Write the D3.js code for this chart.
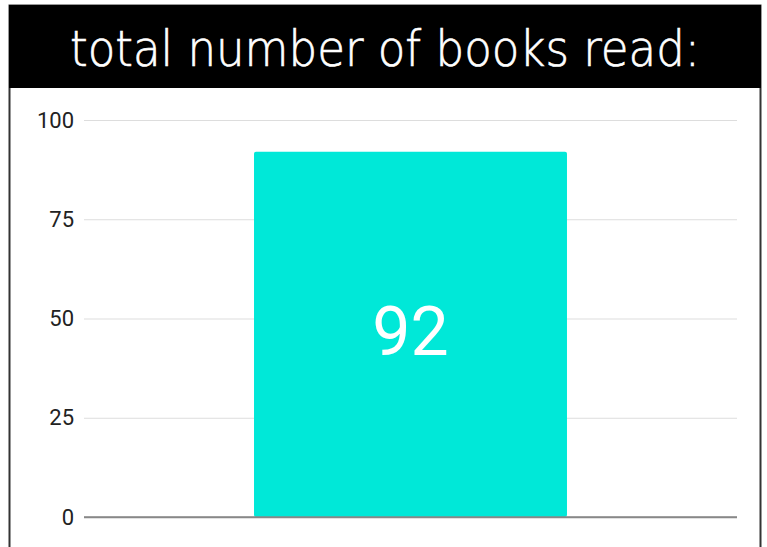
<!DOCTYPE html>
<html>
<head>
<meta charset="utf-8">
<script src="https://cdn.jsdelivr.net/npm/d3@7"></script>
<style>
  html, body { margin: 0; padding: 0; background: #fff; }
  svg { display: block; }
</style>
</head>
<body>
<div id="chart"></div>
<script>
// chart data
const categories = ["books"];
const values = [92];
const yTicks = [0, 25, 50, 75, 100];
const title = "total number of books read:";

const width = 767, height = 547;
const plot = { left: 84, right: 737, top: 120, bottom: 517 };

const svg = d3.select("#chart")
  .append("svg")
  .attr("width", width)
  .attr("height", height);

// frame + title band
svg.append("rect")
  .attr("x", 9.5).attr("y", 5.5)
  .attr("width", 751).attr("height", 560)
  .attr("fill", "#fff")
  .attr("stroke", "#333")
  .attr("stroke-width", 2);

svg.append("rect")
  .attr("x", 9).attr("y", 5)
  .attr("width", 752).attr("height", 83)
  .attr("fill", "#000");

// title is stretched a bit vertically to match the tall geometric face
svg.append("text")
  .attr("transform", "translate(385,66) scale(1,1.13)")
  .attr("text-anchor", "middle")
  .attr("fill", "#fff")
  .attr("font-family", "'DejaVu Sans', sans-serif")
  .attr("font-weight", 200)
  .attr("font-size", 44)
  .attr("stroke", "#fff")
  .attr("stroke-width", 0.6)
  .attr("textLength", 630)
  .attr("lengthAdjust", "spacingAndGlyphs")
  .text(title);

const x = d3.scaleBand()
  .domain(categories)
  .range([plot.left, plot.right])
  .padding(0.352);

const y = d3.scaleLinear()
  .domain([0, 100])
  .range([plot.bottom, plot.top]);

// gridlines + tick labels
const yAxis = d3.axisLeft(y)
  .tickValues(yTicks)
  .tickSize(-(plot.right - plot.left))
  .tickPadding(10);

const gy = svg.append("g")
  .attr("transform", `translate(${plot.left},0)`)
  .call(yAxis);

gy.select(".domain").remove();
gy.selectAll(".tick line")
  .attr("stroke", (d) => d === 0 ? "#888" : "#ddd")
  .attr("stroke-width", (d) => d === 0 ? 1.5 : 1);
gy.selectAll(".tick text")
  .attr("fill", "#222")
  .attr("font-family", "Roboto, sans-serif")
  .attr("font-size", 22);

// bar
svg.append("g")
  .selectAll("rect")
  .data(values)
  .join("rect")
  .attr("x", (d, i) => x(categories[i]))
  .attr("y", (d) => y(d))
  .attr("width", x.bandwidth())
  .attr("height", (d) => y(0) - y(d))
  .attr("rx", 2)
  .attr("fill", "#00E8D8");

// baseline drawn over the bar
svg.append("line")
  .attr("x1", plot.left).attr("x2", plot.right)
  .attr("y1", y(0)).attr("y2", y(0))
  .attr("stroke", "#888")
  .attr("stroke-width", 1.5);

// value label
svg.append("g")
  .selectAll("text")
  .data(values)
  .join("text")
  .attr("x", (d, i) => x(categories[i]) + x.bandwidth() / 2)
  .attr("y", (d) => (y(d) + y(0)) / 2 + 21)
  .attr("text-anchor", "middle")
  .attr("fill", "#fff")
  .attr("font-family", "Roboto, sans-serif")
  .attr("font-size", 68)
  .text((d) => d);
</script>
</body>
</html>
